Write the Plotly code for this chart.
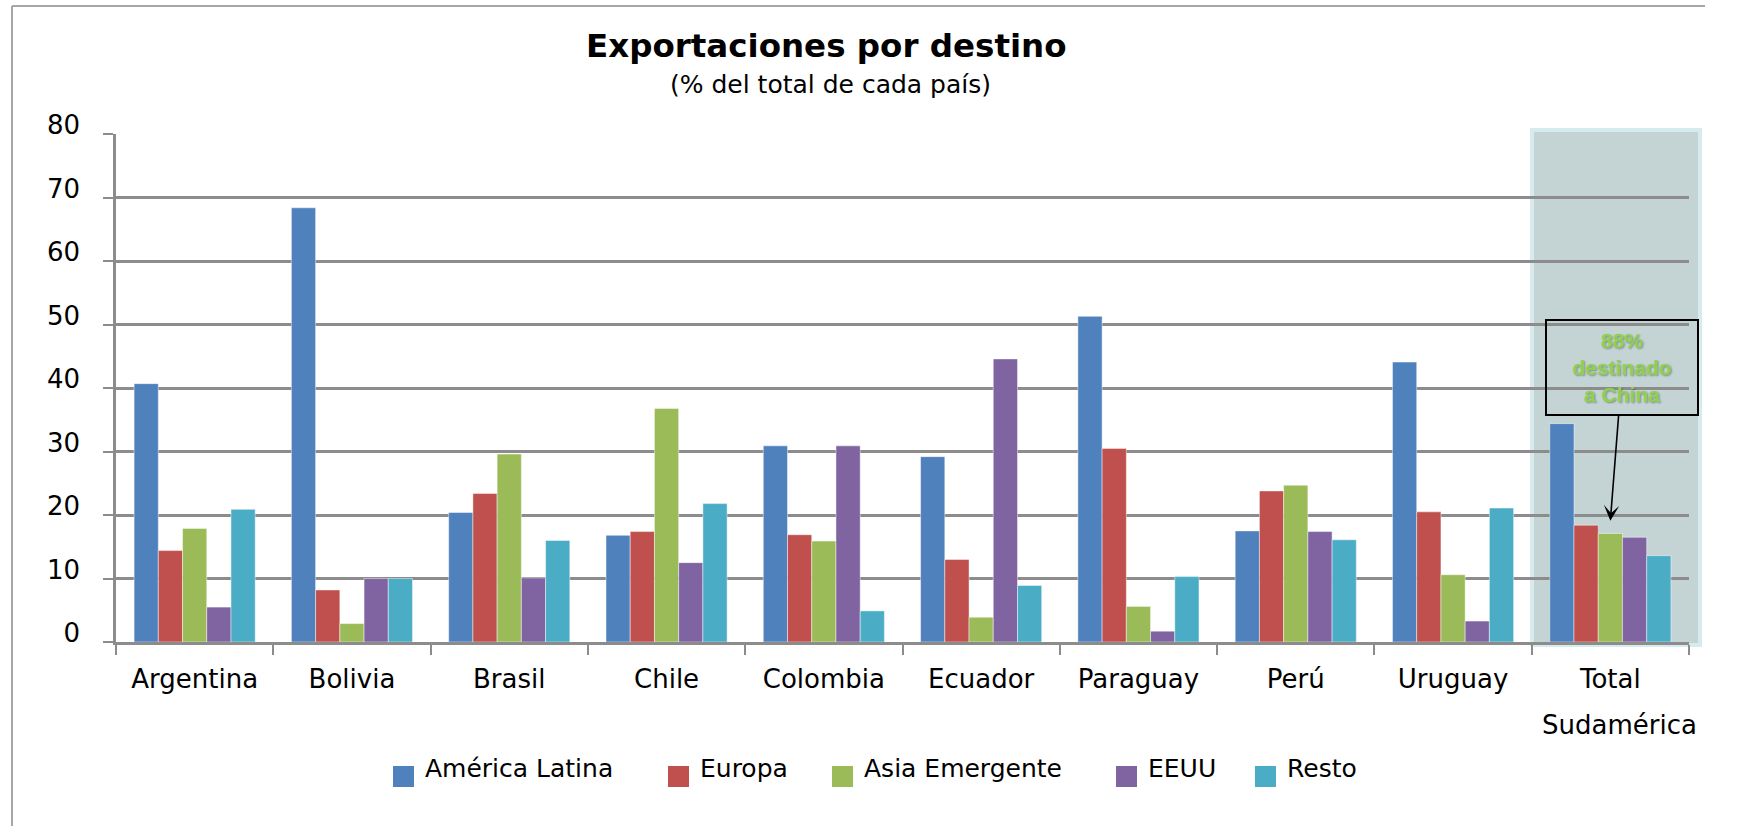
import plotly.graph_objects as go

categories = ["Argentina", "Bolivia", "Brasil", "Chile", "Colombia", "Ecuador",
              "Paraguay", "Perú", "Uruguay", "Total Sudamérica"]
series_names = ["América Latina", "Europa", "Asia Emergente", "EEUU", "Resto"]
america_latina = [40.7, 68.4, 20.4, 16.8, 30.9, 29.2, 51.3, 17.5, 44.1, 34.4]
europa = [14.4, 8.2, 23.4, 17.4, 16.9, 13.0, 30.5, 23.8, 20.5, 18.4]
asia_emergente = [17.9, 2.9, 29.6, 36.8, 15.9, 3.9, 5.6, 24.7, 10.6, 17.1]
eeuu = [5.5, 10.0, 10.1, 12.5, 30.9, 44.6, 1.7, 17.4, 3.3, 16.5]
resto = [20.9, 10.0, 16.0, 21.8, 4.9, 8.9, 10.3, 16.1, 21.1, 13.6]
colors = ["#4F81BD", "#C0504D", "#9BBB59", "#8064A2", "#4BACC6"]
y_ticks = [0, 10, 20, 30, 40, 50, 60, 70, 80]

W, H = 1737, 826
# plot area in page pixels (page body margin removed below)
SX0, SX1, SY0, SY1 = 116, 1689, 134, 642
L, T = SX0, SY0
R, B = W - SX1, H - SY1
PW, PH = SX1 - SX0, SY1 - SY0


def px(x):
    return (x - SX0) / PW


def py(y):
    return (SY1 - y) / PH


FONT = "DejaVu Sans"
GRID = "#8C8C8C"

fig = go.Figure()
for name, vals, col in zip(series_names,
                           [america_latina, europa, asia_emergente, eeuu, resto],
                           colors):
    fig.add_trace(go.Bar(x=categories, y=vals, name=name,
                         marker=dict(color=col, line=dict(color="rgba(255,255,255,0.45)", width=1)),
                         showlegend=False))

ticktext = [c.split(" ")[0] for c in categories]

fig.update_layout(
    width=W, height=H,
    margin=dict(l=L, r=R, t=T, b=B),
    paper_bgcolor="white", plot_bgcolor="rgba(0,0,0,0)",
    barmode="group", bargap=0.23, bargroupgap=0,
    font=dict(family=FONT, size=25, color="black"),
    xaxis=dict(type="category", tickmode="array", tickvals=categories, ticktext=ticktext,
               range=[-0.5, len(categories) - 0.5],
               showline=True, linecolor=GRID, linewidth=2.5, ticks="outside", ticklen=10,
               tickwidth=2, tickcolor=GRID, tickson="boundaries", showgrid=False,
               ticklabelstandoff=12, tickfont=dict(size=26, color="black")),
    yaxis=dict(range=[0, 80.03], tickvals=y_ticks, showline=True, linecolor=GRID, linewidth=2.5,
               ticks="outside", ticklen=10, tickwidth=2, tickcolor=GRID,
               showgrid=True, gridcolor=GRID, gridwidth=2.5, zeroline=False,
               ticklabelstandoff=18, ticklabelshift=-9, tickfont=dict(size=26, color="black")),
)

# highlighted "Total Sudamérica" panel
fig.add_shape(type="rect", xref="paper", yref="paper",
              x0=px(1532), x1=px(1700), y0=py(645), y1=py(130),
              fillcolor="#C4D4D4", line=dict(color="#D5EBEE", width=4), layer="below")

# outer frame
fig.add_shape(type="line", xref="paper", yref="paper", x0=px(12), x1=px(12), y0=py(840), y1=py(6),
              line=dict(color="#A6A6A6", width=2))
fig.add_shape(type="line", xref="paper", yref="paper", x0=px(12), x1=px(1705), y0=py(6), y1=py(6),
              line=dict(color="#A6A6A6", width=2))

# titles
fig.add_annotation(xref="paper", yref="paper", x=px(826), y=py(46), showarrow=False,
                   text="<b>Exportaciones por destino</b>", font=dict(size=32.5, family=FONT),
                   xanchor="center", yanchor="middle")
fig.add_annotation(xref="paper", yref="paper", x=px(830), y=py(85), showarrow=False,
                   text="(% del total de cada país)", font=dict(size=25, family=FONT),
                   xanchor="center", yanchor="middle")

# second line of the last category label
fig.add_annotation(xref="x", yref="paper", x=categories[-1], y=py(725), showarrow=False,
                   text=categories[-1].split(" ", 1)[1], font=dict(size=26, family=FONT),
                   xanchor="center", yanchor="middle", xshift=9)

# custom legend
legend_x = [393, 668, 832, 1116, 1255]
for name, col, lx in zip(series_names, colors, legend_x):
    fig.add_shape(type="rect", xref="paper", yref="paper",
                  x0=px(lx), x1=px(lx + 21), y0=py(787), y1=py(766),
                  fillcolor=col, line=dict(width=0))
    fig.add_annotation(xref="paper", yref="paper", x=px(lx + 30), y=py(768), showarrow=False,
                       text=name, font=dict(size=25, family=FONT),
                       xanchor="left", yanchor="middle")

# China call-out
fig.add_annotation(x=categories[-1], y=asia_emergente[-1] + 2, xref="x", yref="y",
                   text="<b>88%<br>destinado<br>a China</b>",
                   font=dict(family="Liberation Sans", size=21, color="#8FD14F",
                             shadow="1px 1px 2px rgba(0,0,0,0.35)"),
                   showarrow=True, arrowhead=3, arrowsize=1.6, arrowwidth=1.6, arrowcolor="black",
                   ax=12, ay=-153, width=150, height=93, bordercolor="black", borderwidth=2,
                   borderpad=0, align="center", valign="middle")

fig.write_html("out.html", config={"displayModeBar": False},
               post_script="document.body.style.margin='0';document.body.style.overflow='hidden';")
